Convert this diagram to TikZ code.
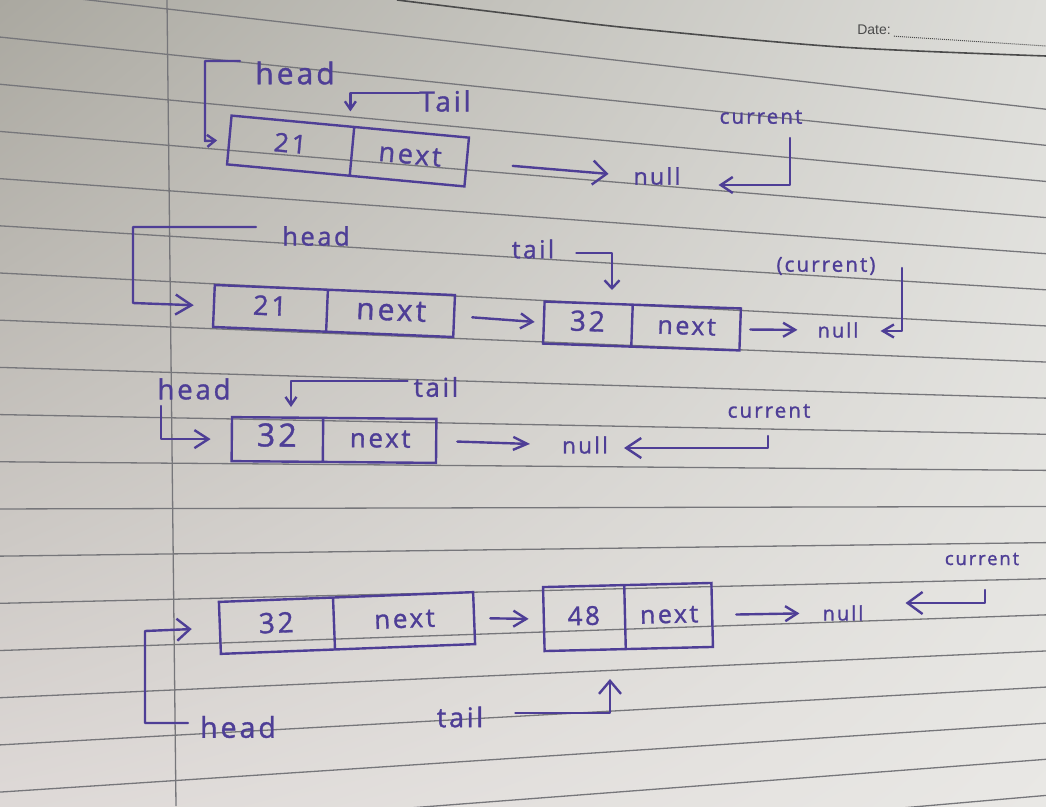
\documentclass[tikz,border=0pt]{standalone}
\usepackage{fontspec}
\newfontfamily\hand[LetterSpace=10,FakeBold=1.2]{Open Sans}
\newfontfamily\printed{Liberation Sans}
\usetikzlibrary{arrows.meta,shapes.multipart,shadings}
\definecolor{ink}{RGB}{78,62,150}
\definecolor{bgul}{RGB}{170,168,160}
\definecolor{bgur}{RGB}{222,222,218}
\definecolor{bgll}{RGB}{222,217,215}
\definecolor{bglr}{RGB}{233,232,229}
\definecolor{ruling}{RGB}{118,118,122}
\definecolor{print}{RGB}{75,75,75}
\newcommand{\cellpart}[4]{\makebox[#1]{\rule[-\dimexpr#2/2-7pt\relax]{0pt}{#2}\hand\fontsize{#3}{#3}\selectfont #4}}
\begin{document}
\begin{tikzpicture}[x=1pt,y=-1pt,
  conn/.style={draw=ink, line width=2.4pt, line cap=round, line join=round},
  arr/.style n args={2}{-{Straight Barb[length=#1,width=#2]}},
  lab/.style={text=ink, inner sep=0pt, font=\hand\fontsize{#1}{#1}\selectfont},
  cell/.style={draw=ink, line width=2.4pt, rectangle split, rectangle split horizontal, rectangle split parts=2, inner sep=0pt, text=ink},
  ruled/.style={draw=ruling, line width=1.3pt}]
\useasboundingbox (0,0) rectangle (1046,806);
% paper
\shade[upper left=bgul, upper right=bgur, lower left=bgll, lower right=bglr] (0,0) rectangle (1046,806);
\begin{scope}
\clip (0,0) rectangle (1046,806);
\foreach \k in {0,...,19}{
  \pgfmathsetmacro\ya{7+45.6*\k}
  \pgfmathsetmacro\yb{104+36.6*\k}
  \pgfmathsetmacro\sl{(\yb-\ya)/850}
  \pgfmathsetmacro\yl{\ya-\sl*150}
  \pgfmathsetmacro\yr{\ya+\sl*896}
  \draw[ruled] (0,\yl) -- (1046,\yr);
}
\draw[ruled] (167,0) -- (176,806);
\draw[draw=print, line width=1.6pt] plot[smooth] coordinates {(397,0) (520,15) (630,28) (840,47) (1046,56)};
\end{scope}
\node[font=\printed\fontsize{14}{14}\selectfont, text=print, inner sep=0pt] (date) at (874,30) {Date:};
\draw[print, densely dotted, line width=1pt, shorten <=3pt] ([yshift=-6pt]date.east) -- (1046,46);

% ---------- row 1 ----------
\node[cell, rotate=-5.3] (r1a) at (348,151) {\cellpart{122pt}{49pt}{26}{21}\nodepart{two}\cellpart{114pt}{49pt}{27}{next}};
\node[lab=30] (head1) at (295,73) {head};
\node[lab=28] (tail1) at (445,101) {Tail};
\node[lab=23] (null1) at (657,176) {null};
\node[lab=20.6] (cur1) at (761,117) {current};
\coordinate (h1s) at (240,61);
\coordinate (h1b) at (205,141);
\draw[conn, arr={8pt}{12pt}, shorten >=11pt] (h1s) -| (h1b) -- (r1a.west);
\draw[conn, arr={8pt}{11pt}] ([yshift=8pt]tail1.west) -| ([yshift=14pt]r1a.north);
\draw[conn, arr={14pt}{24pt}, shorten <=45pt, shorten >=25pt] (r1a.east) -- (null1.west);
\coordinate (c1a) at (790,138);
\draw[conn, arr={12pt}{16pt}, shorten >=38pt] (c1a) |- ([yshift=-9pt]null1.east);

% ---------- row 2 ----------
\node[cell, rotate=-2.4] (r2a) at (334,311) {\cellpart{112pt}{42pt}{27}{21}\nodepart{two}\cellpart{126pt}{42pt}{30}{next}};
\node[cell, rotate=-2] (r2b) at (642,326) {\cellpart{87pt}{42pt}{28}{32}\nodepart{two}\cellpart{107pt}{42pt}{25}{next}};
\node[lab=25.5] (head2) at (316,236) {head};
\node[lab=24.7] (tail2) at (533,249) {tail};
\node[lab=20] (null2) at (838,330) {null};
\node[lab=20.6] (cur2) at (826,266) {(current)};
\coordinate (h2s) at (256,227);
\coordinate (h2b) at (133,303);
\draw[conn, arr={16pt}{20pt}, shorten >=19pt] (h2s) -| (h2b) -- (r2a.west);
\draw[conn, arr={12pt}{15pt}, shorten <=17pt, shorten >=8pt] (r2a.east) -- (r2b.west);
\coordinate (t2e) at (612,290);
\draw[conn, arr={8pt}{15pt}, shorten <=22pt] ([yshift=-4pt]tail2.east) -| (t2e);
\draw[conn, arr={12pt}{14pt}, shorten <=9pt, shorten >=20pt] (r2b.east) -- (null2.west);
\coordinate (c2a) at (902,268);
\draw[conn, arr={11pt}{13pt}, shorten >=22pt] (c2a) |- ([yshift=-1pt]null2.east);

% ---------- row 3 ----------
\node[cell, rotate=-0.5] (r3a) at (334,440) {\cellpart{90pt}{44pt}{32}{32}\nodepart{two}\cellpart{112pt}{44pt}{26}{next}};
\node[lab=27.6] (head3) at (194,389) {head};
\node[lab=26] (tail3) at (436,387) {tail};
\node[lab=22.5] (null3) at (585,445) {null};
\node[lab=20.6] (cur3) at (769,411) {current};
\coordinate (h3s) at (161,406);
\draw[conn, arr={14pt}{18pt}, shorten >=20pt] (h3s) |- (r3a.west);
\coordinate (t3e) at (291,407);
\draw[conn, arr={8pt}{11pt}, shorten <=6pt] ([yshift=6pt]tail3.west) -| (t3e);
\draw[conn, arr={14pt}{13pt}, shorten <=20pt, shorten >=32pt] (r3a.east) -- (null3.west);
\coordinate (c3a) at (768,436);
\draw[conn, arr={15pt}{20pt}, shorten >=16pt] (c3a) |- ([yshift=-3pt]null3.east);

% ---------- row 4 ----------
\node[cell, rotate=2.2] (r4a) at (347,623) {\cellpart{113pt}{52pt}{28}{32}\nodepart{two}\cellpart{139pt}{52pt}{26}{next}};
\node[cell, rotate=1.4] (r4b) at (628,617) {\cellpart{80pt}{64pt}{26}{48}\nodepart{two}\cellpart{86pt}{64pt}{25}{next}};
\node[lab=28.7] (head4) at (238,727) {head};
\node[lab=27] (tail4) at (460,717) {tail};
\node[lab=20] (null4) at (843,613) {null};
\node[lab=18.5] (cur4) at (982,559) {current};
\coordinate (h4b) at (145,631);
\draw[conn, arr={13pt}{22pt}, shorten <=12pt, shorten >=27pt] ([yshift=4pt]head4.west) -| (h4b) -- (r4a.west);
\draw[conn, arr={13pt}{16pt}, shorten <=15pt, shorten >=14pt] (r4a.east) -- (r4b.west);
\coordinate (t4e) at (610,679);
\draw[conn, arr={13pt}{22pt}, shorten <=32pt] ([yshift=4pt]tail4.east) -| (t4e);
\draw[conn, arr={12pt}{15pt}, shorten <=23pt, shorten >=23pt] (r4b.east) -- (null4.west);
\coordinate (c4a) at (985,590);
\draw[conn, arr={15pt}{22pt}, shorten >=42pt] (c4a) |- ([yshift=10pt]null4.east);
\end{tikzpicture}
\end{document}
